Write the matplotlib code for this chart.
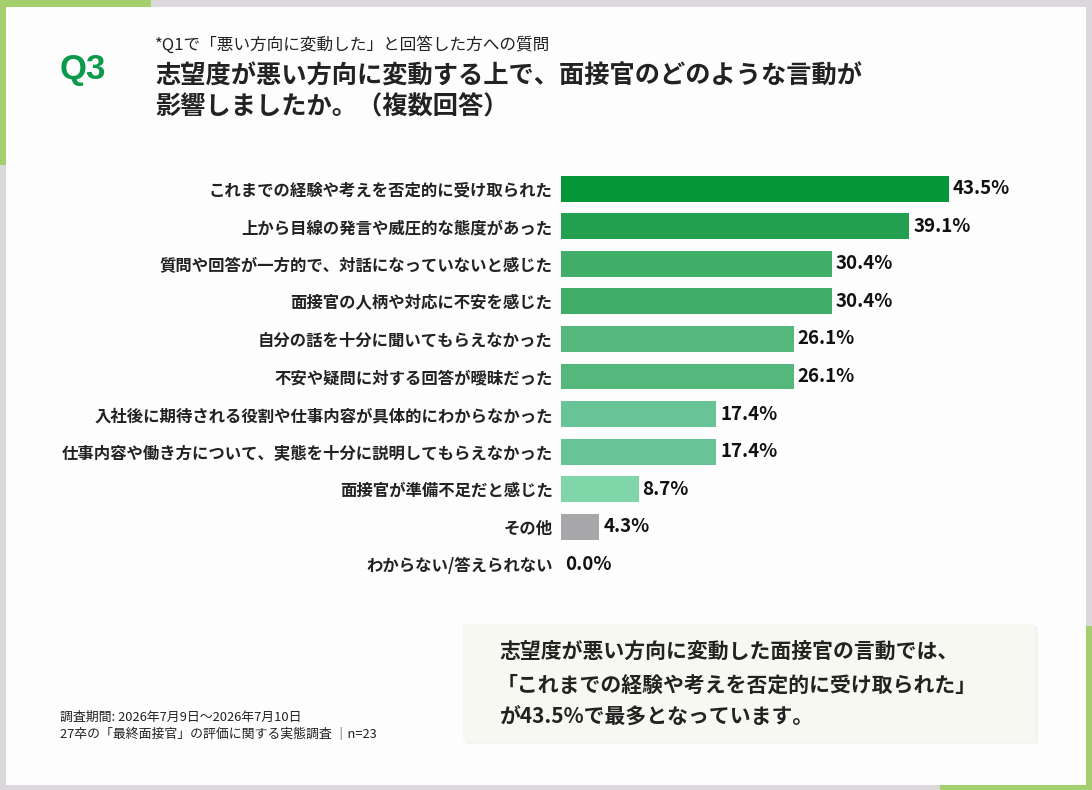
import matplotlib
matplotlib.use("Agg")
import matplotlib.pyplot as plt
from matplotlib.patches import Rectangle

plt.rcParams['font.family'] = ['Noto Sans CJK JP', 'DejaVu Sans']

categories = [
    "これまでの経験や考えを否定的に受け取られた",
    "上から目線の発言や威圧的な態度があった",
    "質問や回答が一方的で、対話になっていないと感じた",
    "面接官の人柄や対応に不安を感じた",
    "自分の話を十分に聞いてもらえなかった",
    "不安や疑問に対する回答が曖昧だった",
    "入社後に期待される役割や仕事内容が具体的にわからなかった",
    "仕事内容や働き方について、実態を十分に説明してもらえなかった",
    "面接官が準備不足だと感じた",
    "その他",
    "わからない/答えられない",
]
values = [43.5, 39.1, 30.4, 30.4, 26.1, 26.1, 17.4, 17.4, 8.7, 4.3, 0.0]
bar_colors = ["#049639", "#23a04f", "#40ad68", "#40ad68", "#56b77c", "#56b77c",
              "#68c496", "#68c496", "#7fd6a8", "#a7a6a9", "#a7a6a9"]

W, H = 1092, 790
fig = plt.figure(figsize=(W / 100, H / 100), dpi=100)
fig.patch.set_facecolor("#dbd8db")


def fx(x):
    return x / W


def fy(y):
    return 1 - y / H


def rect(x0, y0, x1, y1, color, z=0):
    fig.patches.append(Rectangle((fx(x0), fy(y1)), fx(x1 - x0), (y1 - y0) / H,
                                 transform=fig.transFigure, color=color,
                                 zorder=z, lw=0))


# card and green accents
rect(0, 0, 151, 12, "#a5cf6e")
rect(0, 0, 12, 165, "#a5cf6e")
rect(1080, 626, 1092, 790, "#a5cf6e")
rect(940, 779, 1092, 790, "#a5cf6e")
rect(6, 7, 1086, 785, "#fefdfe", z=1)
# summary box
rect(465, 626, 1038, 744, "#f4f4f2", z=2)
rect(463, 624, 1035, 741, "#f7f8f2", z=3)

dark = "#222222"
fig.text(fx(60), fy(70), "Q3", color="#0a9a4a", fontsize=25, fontweight="bold",
         family="Liberation Sans", va="center", ha="left")
fig.text(fx(155), fy(45), "*Q1で「悪い方向に変動した」と回答した方への質問",
         fontsize=12, color=dark, va="center")
fig.text(fx(155), fy(76), "志望度が悪い方向に変動する上で、面接官のどのような言動が",
         fontsize=18.2, fontweight="bold", color=dark, va="center")
fig.text(fx(155), fy(107), "影響しましたか。（複数回答）",
         fontsize=18.2, fontweight="bold", color=dark, va="center")

# bars
ax = fig.add_axes([fx(561), fy(583), fx(1060 - 561), (583 - 170) / H])
ax.set_zorder(5)
ax.patch.set_alpha(0)
pos = range(len(categories))
ax.barh(pos, values, height=0.69, color=bar_colors)
ax.set_ylim(len(categories) - 0.5, -0.5)
ax.set_xlim(0, 56)
ax.set_yticks(list(pos))
ax.set_yticklabels(categories, fontsize=11.8, fontweight="bold", color=dark)
ax.tick_params(axis="y", length=0, pad=6)
ax.set_xticks([])
for s in ax.spines.values():
    s.set_visible(False)
for i, v in enumerate(values):
    ax.text(v + 0.45, i, f"{v:.1f}%", va="center", ha="left", fontsize=13.5,
            fontweight="bold", color="#111111")

# summary text
summary = [
    "志望度が悪い方向に変動した面接官の言動では、",
    "「これまでの経験や考えを否定的に受け取られた」",
    "が43.5%で最多となっています。",
]
for k, (line, y) in enumerate(zip(summary, [651, 685, 717])):
    fig.text(fx(497 if k == 1 else 500), fy(y), line, fontsize=15, fontweight="bold",
             color=dark, va="center", zorder=6)

# footnote
fig.text(fx(60), fy(717), "調査期間: 2026年7月9日～2026年7月10日",
         fontsize=9.3, color=dark, va="center")
fig.text(fx(60), fy(735), "27卒の「最終面接官」の評価に関する実態調査 │n=23",
         fontsize=9.3, color=dark, va="center")

fig.savefig("out.png", dpi=100, facecolor=fig.get_facecolor())
